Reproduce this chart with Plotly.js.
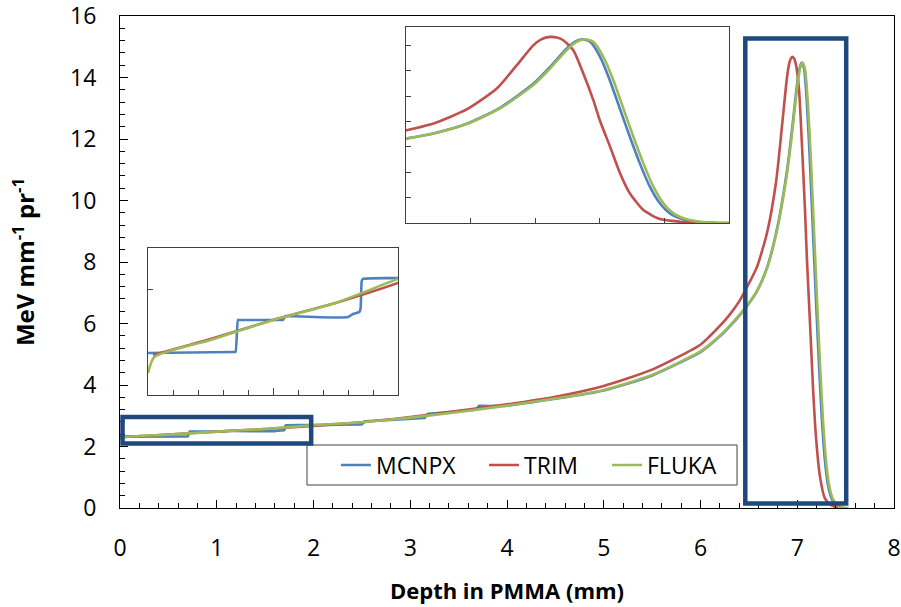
<!DOCTYPE html>
<html><head><meta charset="utf-8">
<script src="https://cdn.plot.ly/plotly-3.0.1.min.js"></script>
<style>html,body{margin:0;padding:0;background:#fff;} #chart{width:901px;height:607px;}</style>
</head><body><div id="chart"></div>
<script>
// ---- data (depth in mm, MeV mm^-1 pr^-1) ----
const seriesNames = ['MCNPX', 'TRIM', 'FLUKA'];
const seriesColors = ['#4F81BD', '#C0504D', '#9BBB59'];

const mcnpxX = [0, 0.69, 0.70, 0.72, 0.73, 1.07, 1.08, 1.10, 1.11, 1.60, 1.64, 1.69, 1.70, 1.71, 1.72, 2.0, 2.49, 2.50, 2.53, 2.54, 3.14, 3.15, 3.18, 3.19, 3.67, 3.68, 3.71, 3.72, 4.0, 4.5, 5.0, 5.5, 6.0, 6.1, 6.2, 6.3, 6.4, 6.5, 6.585, 6.688, 6.791, 6.894, 6.946, 6.997, 7.028, 7.045, 7.07, 7.101, 7.131, 7.162, 7.193, 7.224, 7.255, 7.286, 7.317, 7.358, 7.40, 7.45, 7.50];
const mcnpxY = [2.32, 2.325, 2.325, 2.485, 2.485, 2.485, 2.485, 2.505, 2.505, 2.50, 2.515, 2.525, 2.54, 2.68, 2.69, 2.695, 2.72, 2.72, 2.82, 2.82, 2.93, 2.93, 3.06, 3.06, 3.20, 3.20, 3.32, 3.32, 3.33, 3.55, 3.82, 4.31, 5.07, 5.31, 5.58, 5.90, 6.25, 6.65, 7.06, 7.82, 9.08, 10.97, 12.30, 13.75, 14.35, 14.48, 14.30, 13.10, 11.26, 9.03, 6.80, 4.70, 2.86, 1.55, 0.76, 0.29, 0.10, 0.02, 0];

const trimX = [0.04, 0.5, 1.0, 1.5, 2.0, 2.5, 3.0, 3.5, 4.0, 4.5, 5.0, 5.5, 6.0, 6.1, 6.2, 6.3, 6.4, 6.5, 6.585, 6.688, 6.781, 6.843, 6.894, 6.92, 6.946, 6.967, 6.987, 7.018, 7.049, 7.08, 7.10, 7.132, 7.163, 7.193, 7.235, 7.286, 7.348, 7.41, 7.46];
const trimY = [2.31, 2.39, 2.485, 2.57, 2.67, 2.79, 2.96, 3.16, 3.37, 3.62, 3.97, 4.50, 5.31, 5.60, 5.92, 6.28, 6.72, 7.30, 7.85, 8.95, 10.6, 12.44, 14.0, 14.5, 14.67, 14.62, 14.41, 13.62, 11.79, 9.69, 8.10, 6.00, 3.91, 2.34, 1.02, 0.31, 0.10, 0.02, 0];

const flukaX = [0, 0.05, 0.5, 1.0, 1.5, 2.0, 2.5, 3.0, 3.5, 4.0, 4.5, 5.0, 5.5, 6.0, 6.1, 6.2, 6.3, 6.4, 6.5, 6.585, 6.688, 6.791, 6.894, 6.946, 6.997, 7.028, 7.053, 7.08, 7.111, 7.142, 7.173, 7.204, 7.235, 7.266, 7.297, 7.328, 7.369, 7.41, 7.46, 7.53];
const flukaY = [2.22, 2.30, 2.385, 2.485, 2.57, 2.69, 2.79, 2.94, 3.12, 3.33, 3.56, 3.84, 4.33, 5.09, 5.33, 5.60, 5.92, 6.27, 6.67, 7.06, 7.80, 9.03, 10.87, 12.18, 13.62, 14.28, 14.49, 14.28, 13.10, 11.26, 9.03, 6.80, 4.70, 2.86, 1.55, 0.76, 0.29, 0.10, 0.02, 0];

const xTickVals = [0, 1, 2, 3, 4, 5, 6, 7, 8];
const yTickVals = [0, 2, 4, 6, 8, 10, 12, 14, 16];

const seriesX = [mcnpxX, trimX, flukaX];
const seriesY = [mcnpxY, trimY, flukaY];

// ---- traces ----
const FONT = 'Open Sans, Liberation Sans, sans-serif';
const traces = [];
const legendIds = ['legend', 'legend2', 'legend3'];
[['x', 'y', true], ['x2', 'y2', false], ['x3', 'y3', false]].forEach(([xa, ya, main]) => {
  seriesNames.forEach((name, i) => {
    traces.push({
      type: 'scatter', mode: 'lines', name: name,
      x: seriesX[i], y: seriesY[i], xaxis: xa, yaxis: ya,
      line: {color: seriesColors[i], width: 2.6, shape: 'spline', smoothing: 0.6},
      showlegend: main, legend: legendIds[i], hoverinfo: 'skip'
    });
  });
});

const frame = {showline: true, mirror: true, linecolor: '#404040', linewidth: 1, zeroline: false, showgrid: false};

const layout = {
  width: 901, height: 607,
  margin: {l: 120, r: 7, t: 16, b: 99},
  paper_bgcolor: '#fff', plot_bgcolor: '#fff',
  font: {family: FONT, color: '#000', size: 23},
  xaxis: Object.assign({}, frame, {
    domain: [0, 1], range: [0, 8], tickvals: xTickVals, ticks: 'inside', ticklen: 8, tickcolor: '#000',
    linecolor: '#000', ticklabeloverflow: 'allow',
    minor: {dtick: 0.2, tick0: 0, ticks: 'inside', ticklen: 5, tickcolor: '#000'},
    tickfont: {size: 23, family: FONT}, ticklabelstandoff: 19,
    title: {text: '<b>Depth in PMMA (mm)</b>', font: {size: 22, family: FONT}, standoff: 22}
  }),
  yaxis: Object.assign({}, frame, {
    domain: [0, 1], range: [0, 16], tickvals: yTickVals, ticks: 'inside', ticklen: 8, tickcolor: '#000',
    linecolor: '#000', ticklabeloverflow: 'allow',
    minor: {dtick: 0.4, tick0: 0, ticks: 'inside', ticklen: 5, tickcolor: '#000'},
    tickfont: {size: 23, family: FONT}, ticklabelstandoff: 18,
    title: {text: '<b>MeV mm<sup>-1</sup> pr<sup>-1</sup></b>', font: {size: 24, family: FONT}, standoff: 28}
  }),
  xaxis2: Object.assign({}, frame, {
    domain: [0.0362, 0.3592], anchor: 'y2', range: [0, 2], tickvals: [1], ticks: 'inside', ticklen: 7,
    minor: {dtick: 0.2, tick0: 0, ticks: 'inside', ticklen: 5, tickcolor: '#404040'},
    tickcolor: '#404040', showticklabels: false
  }),
  yaxis2: Object.assign({}, frame, {
    domain: [0.2297, 0.5285], anchor: 'x2', range: [2.11, 2.845], tickvals: [2.635], ticks: 'inside', ticklen: 5,
    tickcolor: '#404040', showticklabels: false
  }),
  xaxis3: Object.assign({}, frame, {
    domain: [0.3695, 0.7868], anchor: 'y3', range: [6.5, 7.5], tickvals: [6.7, 6.9, 7.1, 7.3], ticks: 'inside', ticklen: 5,
    tickcolor: '#404040', showticklabels: false
  }),
  yaxis3: Object.assign({}, frame, {
    domain: [0.5793, 0.9776], anchor: 'x3', range: [0, 15.45], tickvals: [2, 4, 6, 8, 10, 12, 14], ticks: 'inside', ticklen: 5,
    tickcolor: '#404040', showticklabels: false
  }),
  shapes: [
    {type: 'rect', xref: 'x', yref: 'y', x0: 0.026, x1: 1.976, y0: 2.10, y1: 2.96, line: {color: '#1F497D', width: 4.5}, layer: 'above'},
    {type: 'rect', xref: 'x', yref: 'y', x0: 6.463, x1: 7.506, y0: 0.15, y1: 15.27, line: {color: '#1F497D', width: 4.5}, layer: 'above'},
    {type: 'rect', xref: 'paper', yref: 'paper', x0: 0.2416, x1: 0.7972, y0: 0.0467, y1: 0.128, line: {color: '#404040', width: 1}, fillcolor: '#fff', layer: 'below'}
  ],
  legend: {x: 0.279, y: 0.0874, xanchor: 'left', yanchor: 'middle', bgcolor: 'rgba(0,0,0,0)', borderwidth: 0, font: {size: 23, family: FONT}},
  legend2: {x: 0.4703, y: 0.0874, xanchor: 'left', yanchor: 'middle', bgcolor: 'rgba(0,0,0,0)', borderwidth: 0, font: {size: 23, family: FONT}},
  legend3: {x: 0.6292, y: 0.0874, xanchor: 'left', yanchor: 'middle', bgcolor: 'rgba(0,0,0,0)', borderwidth: 0, font: {size: 23, family: FONT}}
};

Plotly.newPlot('chart', traces, layout, {staticPlot: true, displayModeBar: false});
</script>
</body></html>
